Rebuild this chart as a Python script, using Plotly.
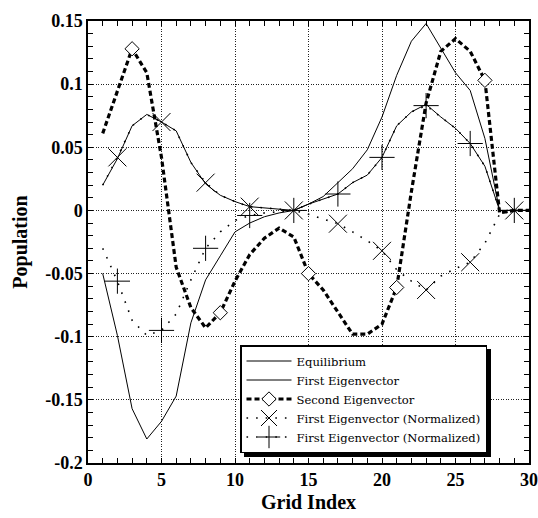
import plotly.graph_objects as go

grid_index = list(range(1, 31))

equilibrium = [-0.05, -0.099, -0.157, -0.181, -0.167, -0.147, -0.089, -0.055, -0.036, -0.017,
               -0.010, -0.005, -0.002, 0.0, 0.005, 0.011, 0.022, 0.033, 0.048, 0.074,
               0.107, 0.134, 0.148, 0.128, 0.109, 0.095, 0.057, 0.0, 0.0, 0.0]

first_eigenvector = [0.020, 0.041, 0.067, 0.076, 0.070, 0.063, 0.038, 0.021, 0.012, 0.007,
                     0.003, 0.002, 0.001, 0.0, 0.005, 0.009, 0.013, 0.022, 0.028, 0.042,
                     0.067, 0.078, 0.084, 0.074, 0.065, 0.053, 0.035, 0.0, 0.0, 0.0]

second_eigenvector = [0.061, 0.095, 0.128, 0.109, 0.042, -0.045, -0.077, -0.093, -0.081, -0.056,
                      -0.035, -0.022, -0.014, -0.021, -0.050, -0.063, -0.080, -0.098, -0.098, -0.090,
                      -0.061, 0.015, 0.085, 0.126, 0.136, 0.126, 0.103, -0.002, 0.0, 0.0]

norm_x = [0.020, 0.042, 0.067, 0.076, 0.070, 0.063, 0.038, 0.022, 0.012, 0.007,
          0.003, 0.002, 0.001, 0.0, -0.003, -0.007, -0.0105, -0.017, -0.024, -0.032,
          -0.047, -0.056, -0.063, -0.052, -0.046, -0.041, -0.026, -0.003, 0.0, 0.0]

norm_plus = [-0.030, -0.056, -0.087, -0.099, -0.095, -0.082, -0.055, -0.030, -0.017, -0.008,
             -0.004, -0.002, -0.001, 0.0, 0.005, 0.009, 0.013, 0.022, 0.028, 0.042,
             0.067, 0.078, 0.083, 0.074, 0.065, 0.053, 0.035, 0.0, 0.0, 0.0]

# marker positions (every 6th point for diamonds, every 3rd for X and +)
diamond_idx = [3, 9, 15, 21, 27]
cross_idx = [2, 5, 8, 11, 14, 17, 20, 23, 26, 29]

x_tickvals = [0, 5, 10, 15, 20, 25, 30]
x_ticktext = ["0", "5", "10", "15", "20", "25", "30"]
y_tickvals = [-0.2, -0.15, -0.1, -0.05, 0, 0.05, 0.1, 0.15]
y_ticktext = ["-0.2", "-0.15", "-0.1", "-0.05", "0", "0.05", "0.1", "0.15"]

names = ["Equilibrium", "First Eigenvector", "Second Eigenvector",
         "First Eigenvector (Normalized)", "First Eigenvector (Normalized)"]

SERIF = "Liberation Serif, Times New Roman, serif"

thin = dict(color="black", width=1)
dash2 = dict(color="black", width=3.2, dash="5px,3px")
dotl = dict(color="black", width=1.6, dash="1.6px,8px")

diamond_m = dict(symbol="diamond", size=11, color="white", line=dict(color="black", width=1))
x_m = dict(symbol="x-thin-open", size=18, color="black", line=dict(color="black", width=1))
p_m = dict(symbol="cross-thin-open", size=18, color="black", line=dict(color="black", width=1))

fig = go.Figure()

# lines
fig.add_trace(go.Scatter(x=grid_index, y=norm_x, mode="lines", line=dotl, showlegend=False))
fig.add_trace(go.Scatter(x=grid_index, y=norm_plus, mode="lines", line=dotl, showlegend=False))
fig.add_trace(go.Scatter(x=grid_index, y=equilibrium, mode="lines", line=thin, showlegend=False))
fig.add_trace(go.Scatter(x=grid_index, y=first_eigenvector, mode="lines", line=thin, showlegend=False))
fig.add_trace(go.Scatter(x=grid_index, y=second_eigenvector, mode="lines", line=dash2, showlegend=False))

# markers
fig.add_trace(go.Scatter(x=diamond_idx, y=[second_eigenvector[i - 1] for i in diamond_idx],
                         mode="markers", marker=diamond_m, showlegend=False))
fig.add_trace(go.Scatter(x=cross_idx, y=[norm_x[i - 1] for i in cross_idx],
                         mode="markers", marker=x_m, showlegend=False))
fig.add_trace(go.Scatter(x=cross_idx, y=[norm_plus[i - 1] for i in cross_idx],
                         mode="markers", marker=p_m, showlegend=False))

# legend entries
legend_styles = [("lines", thin, None), ("lines", thin, None), ("lines+markers", dash2, diamond_m),
                 ("lines+markers", dotl, x_m), ("lines+markers", dotl, p_m)]
for nm, (md, ln, mk) in zip(names, legend_styles):
    kw = dict(x=[None], y=[None], mode=md, line=ln, name=nm, showlegend=True)
    if mk is not None:
        kw["marker"] = mk
    fig.add_trace(go.Scatter(**kw))

axis_common = dict(
    showline=True, linecolor="black", linewidth=1.5, mirror="ticks",
    ticks="inside", ticklen=5, tickwidth=1, tickcolor="black",
    showgrid=True, gridcolor="#222", gridwidth=1, griddash="1px,1.5px",
    zeroline=False, automargin=False,
    tickfont=dict(family=SERIF, size=18, color="black", weight="bold"),
)

fig.update_xaxes(range=[0, 30], tickmode="array", tickvals=x_tickvals, ticktext=x_ticktext,
                 minor=dict(ticks="inside", ticklen=5, dtick=1, tick0=0, tickcolor="black", showgrid=False),
                 title=dict(text="Grid Index", font=dict(family=SERIF, size=20, color="black", weight="bold"),
                            standoff=6),
                 **axis_common)
fig.update_yaxes(range=[-0.2, 0.15], tickmode="array", tickvals=y_tickvals, ticktext=y_ticktext,
                 minor=dict(ticks="inside", ticklen=5, dtick=0.01, tick0=0, tickcolor="black", showgrid=False),
                 title=dict(text="Population", font=dict(family=SERIF, size=20, color="black", weight="bold"),
                            standoff=12),
                 **axis_common)

# legend shadow
fig.add_shape(type="rect", xref="paper", yref="paper", layer="above",
              x0=(244 - 88) / 441, x1=(491 - 88) / 441, y0=(463 - 457) / 442, y1=(463 - 349) / 442,
              fillcolor="black", line=dict(width=0))

fig.update_layout(
    width=538, height=518,
    margin=dict(l=88, r=9, t=21, b=55),
    paper_bgcolor="white", plot_bgcolor="white",
    font=dict(family=SERIF, color="black"),
    legend=dict(x=(240 - 88) / 441, y=(463 - 345) / 442, xanchor="left", yanchor="top",
                bgcolor="white", bordercolor="black", borderwidth=1.5,
                font=dict(family="DejaVu Serif", size=11.6, color="black"),
                itemwidth=45, tracegroupgap=0),
)

fig.write_html("out.html",
               config={"displayModeBar": False},
               post_script="document.body.style.margin='0';document.body.style.overflow='hidden';")
